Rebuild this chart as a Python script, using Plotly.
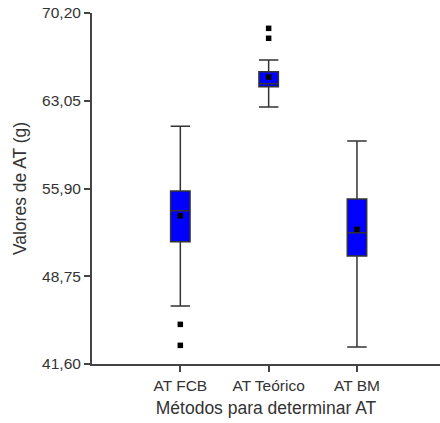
import plotly.graph_objects as go

categories = ["AT FCB", "AT Teórico", "AT BM"]
positions = [0, 1, 2]
q1 = [51.56, 64.20, 50.40]
median = [54.09, 64.44, 52.30]
q3 = [55.69, 65.42, 55.04]
lowerfence = [46.32, 62.54, 42.98]
upperfence = [60.97, 66.37, 59.77]
means = [53.68, 64.98, 52.57]
outlier_x = [0, 0, 1, 1]
outlier_y = [44.83, 43.12, 68.95, 68.14]
y_ticks = [41.60, 48.75, 55.90, 63.05, 70.20]

fig = go.Figure()
fig.add_trace(go.Box(
    x=positions, q1=q1, median=median, q3=q3,
    lowerfence=lowerfence, upperfence=upperfence,
    fillcolor="#0000FF", line=dict(color="#333333", width=1.5),
    width=0.22, whiskerwidth=1, boxpoints=False, showlegend=False,
))
fig.add_trace(go.Scatter(
    x=positions, y=means, mode="markers",
    marker=dict(symbol="square", size=5.5, color="black"), showlegend=False,
))
fig.add_trace(go.Scatter(
    x=outlier_x, y=outlier_y, mode="markers",
    marker=dict(symbol="square", size=5.5, color="black"), showlegend=False,
))

font_family = "Liberation Sans, Arial, sans-serif"
fig.update_layout(
    width=440, height=423,
    margin=dict(l=92, r=0, t=13, b=59),
    paper_bgcolor="white", plot_bgcolor="white",
    separators=",.",
    font=dict(family=font_family, color="#333333", size=15.5),
    xaxis=dict(
        range=[-1, 2.94], tickvals=positions, ticktext=categories,
        showline=True, linecolor="#444444", linewidth=2,
        ticks="outside", ticklen=6, tickwidth=2, tickcolor="#444444",
        showgrid=False, zeroline=False,
        title=dict(text="Métodos para determinar AT", font=dict(size=17.5), standoff=9),
    ),
    yaxis=dict(
        range=[41.6, 70.2], tickvals=y_ticks, tickformat=".2f",
        showline=True, linecolor="#444444", linewidth=2,
        ticks="outside", ticklen=6, tickwidth=2, tickcolor="#444444",
        showgrid=False, zeroline=False,
        title=dict(text="Valores de AT (g)", font=dict(size=17.5), standoff=11),
    ),
)
fig.write_html("out.html")
